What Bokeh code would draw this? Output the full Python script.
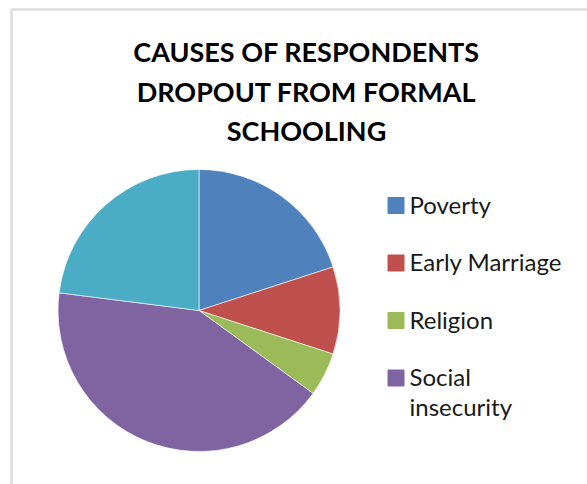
import math
from bokeh.plotting import figure
from bokeh.models import Range1d, BoxAnnotation
from bokeh.core.properties import value
from bokeh.embed import file_html
from bokeh.resources import INLINE

# ---- data ----
categories = ["Poverty", "Early Marriage", "Religion", "Social\ninsecurity", ""]
values = [20, 10, 5, 42, 23]
colors = ["#4F81BD", "#C0504D", "#9BBB59", "#8064A2", "#4BACC6"]
title_lines = ["CAUSES OF RESPONDENTS", "DROPOUT FROM FORMAL", "SCHOOLING"]

W, H = 587, 484
def Y(py):
    return H - py

p = figure(width=W, height=H, output_backend="svg", toolbar_location=None,
           x_range=Range1d(0, W), y_range=Range1d(0, H), min_border=0)
p.axis.visible = False
p.grid.visible = False
p.outline_line_color = None
p.background_fill_color = "white"
p.border_fill_color = "white"

# chart border (grey, left + top visible)
p.add_layout(BoxAnnotation(left=11, right=W + 50, top=Y(9), bottom=-50,
                           fill_alpha=0, line_color="#8a8a8a", line_width=2.5))

# pie
total = sum(values)
cx, cy, r = 198.5, Y(310), 141
starts, ends = [], []
acc = 0.0
for v in values:
    starts.append(math.pi / 2 - 2 * math.pi * acc / total)
    acc += v
    ends.append(math.pi / 2 - 2 * math.pi * acc / total)
p.wedge(x=[cx] * len(values), y=[cy] * len(values), radius=r,
        start_angle=starts, end_angle=ends, direction="clock",
        fill_color=colors, line_color="white", line_width=0.6)

# title
for i, t in enumerate(title_lines):
    p.text(x=[306], y=[Y(51 + 39.5 * i)], text=[t], text_align="center",
           text_baseline="middle", text_font=value("Lato"),
           text_font_style="bold", text_font_size="27px", text_color="#000000")

# legend
leg_y0, leg_dy = 205, 57.5
for i, lab in enumerate(categories):
    if not lab:
        continue
    yc = leg_y0 + leg_dy * i
    p.rect(x=[395.5], y=[Y(yc)], width=16, height=16, fill_color=colors[i],
           line_color=colors[i])
    p.text(x=[409], y=[Y(yc - 16)], text=[lab], text_align="left",
           text_baseline="top", text_font=value("Lato"),
           text_font_size="24px", text_color="#1a1a1a", text_line_height=1.04)

open("out.html", "w").write(file_html(p, INLINE))
